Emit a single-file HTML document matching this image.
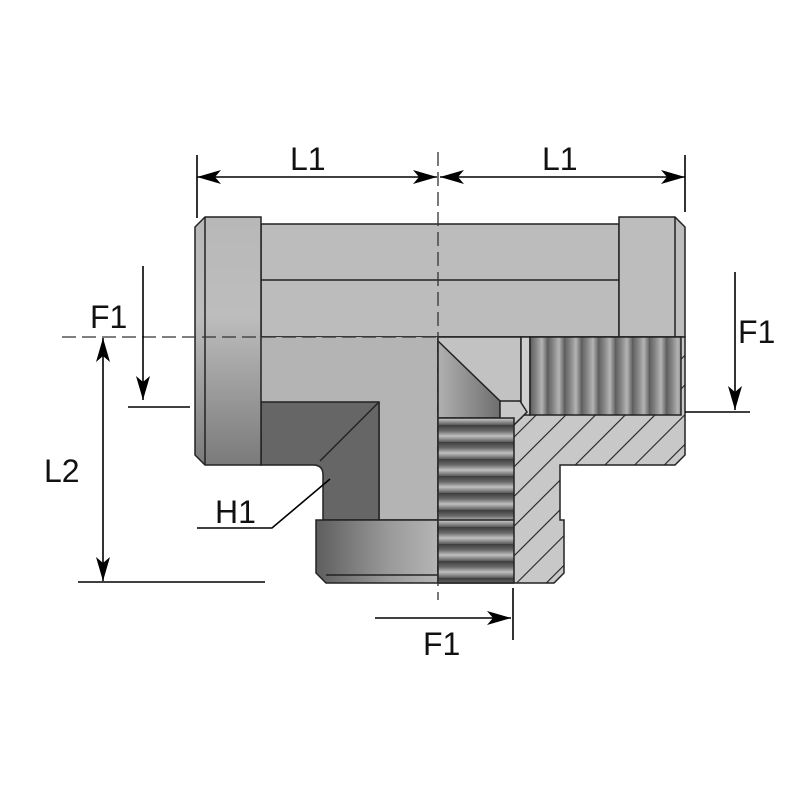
<!DOCTYPE html>
<html><head><meta charset="utf-8"><style>html,body{margin:0;padding:0;background:#fff}svg{display:block}</style></head>
<body>
<svg width="800" height="800" viewBox="0 0 800 800" xmlns="http://www.w3.org/2000/svg" font-family="'Liberation Sans', sans-serif">
<defs>
<linearGradient id="fl" x1="0" y1="0" x2="0" y2="1">
<stop offset="0" stop-color="#b8b8b8"/><stop offset="0.4" stop-color="#bdbdbd"/><stop offset="1" stop-color="#7a7a7a"/></linearGradient>
<linearGradient id="bf" x1="0" y1="0" x2="1" y2="0">
<stop offset="0" stop-color="#5e5e5e"/><stop offset="0.6" stop-color="#9a9a9a"/><stop offset="1" stop-color="#b5b5b5"/></linearGradient>
<linearGradient id="tri" x1="0" y1="0" x2="1" y2="0">
<stop offset="0" stop-color="#b0b0b0"/><stop offset="1" stop-color="#6e6e6e"/></linearGradient>
<linearGradient id="gv" x1="0" y1="0" x2="1" y2="0">
<stop offset="0" stop-color="#5c5c5c"/><stop offset="0.4" stop-color="#8a8a8a"/><stop offset="0.7" stop-color="#b4b4b4"/><stop offset="1" stop-color="#6a6a6a"/></linearGradient>
<linearGradient id="gh" x1="0" y1="0" x2="0" y2="1">
<stop offset="0" stop-color="#3c3c3c"/><stop offset="0.35" stop-color="#6a6a6a"/><stop offset="0.65" stop-color="#c0c0c0"/><stop offset="1" stop-color="#5a5a5a"/></linearGradient>
<pattern id="thV" x="530" y="0" width="17" height="10" patternUnits="userSpaceOnUse">
<rect width="17" height="10" fill="url(#gv)"/></pattern>
<pattern id="thH" x="0" y="425" width="10" height="17" patternUnits="userSpaceOnUse">
<rect width="10" height="17" fill="url(#gh)"/></pattern>
<pattern id="hatch" width="21" height="21" patternUnits="userSpaceOnUse" patternTransform="rotate(45)">
<rect width="21" height="21" fill="#c8c8c8"/><line x1="0" y1="0" x2="0" y2="21" stroke="#222" stroke-width="2.2"/></pattern>
<marker id="ah" viewBox="0 0 24 14" refX="24" refY="7" markerWidth="24" markerHeight="14" markerUnits="userSpaceOnUse" orient="auto">
<path d="M0,0 L24,7 L0,14 L6,7 Z" fill="#000"/></marker>
</defs>
<g stroke="#222" stroke-width="1.5">
<rect x="261" y="224" width="358" height="113" fill="#bcbcbc"/>
<line x1="261" y1="280" x2="619" y2="280"/>
<path d="M261,337 H438 V520 H379 V337 Z" fill="#b4b4b4"/>
<path d="M261,337 H438 V402 H261 Z" fill="#b4b4b4" stroke="none"/>
<path d="M261,402 H379 V520 H323 V475 Q323,465 313,465 H261 Z" fill="#666"/>
<line x1="379" y1="402" x2="320" y2="461"/>
<path d="M205,217 H261 V465 H205 L195,455 V227 Z" fill="url(#fl)"/>
<line x1="205" y1="217" x2="205" y2="465"/>
<path d="M619,217 H675 L685,227 V337 H619 Z" fill="#bdbdbd"/>
<line x1="675" y1="217" x2="675" y2="337"/>
<path d="M316,520 H438 V583 H326 L316,573 Z" fill="url(#bf)"/>
<line x1="326" y1="575" x2="438" y2="575"/>
<path d="M438,337 H685 V455 L675,465 H560 V520 H564 V573 L554,583 H438 Z" fill="url(#hatch)"/>
<rect x="438" y="337" width="83" height="81" fill="#c2c2c2"/>
<rect x="521" y="337" width="9" height="78" fill="#cfcfcf"/>
<rect x="530" y="337" width="151" height="78" fill="url(#thV)"/>
<path d="M438,341 L500,401 V418 H438 Z" fill="url(#tri)"/>
<path d="M500,401 H520 L527,412 L514,425 H500 Z" fill="#c8c8c8"/>
<rect x="438" y="418" width="76" height="165" fill="url(#thH)"/>
<line x1="438" y1="520" x2="514" y2="520"/>
</g>
<g stroke="#333" stroke-width="1.3" stroke-dasharray="14,6" fill="none">
<line x1="438" y1="152" x2="438" y2="600"/>
<line x1="62" y1="337" x2="438" y2="337"/>
</g>
<g stroke="#000" stroke-width="1.6" fill="none">
<line x1="197" y1="155" x2="197" y2="218"/>
<line x1="685" y1="155" x2="685" y2="212"/>
<line x1="260" y1="177" x2="197" y2="177" marker-end="url(#ah)"/>
<line x1="260" y1="177" x2="437" y2="177" marker-end="url(#ah)"/>
<line x1="560" y1="177" x2="440" y2="177" marker-end="url(#ah)"/>
<line x1="560" y1="177" x2="685" y2="177" marker-end="url(#ah)"/>
<line x1="143" y1="266" x2="143" y2="400" marker-end="url(#ah)"/>
<line x1="128" y1="407" x2="190" y2="407"/>
<line x1="103" y1="460" x2="103" y2="338" marker-end="url(#ah)"/>
<line x1="103" y1="460" x2="103" y2="581" marker-end="url(#ah)"/>
<line x1="78" y1="582" x2="265" y2="582"/>
<line x1="735" y1="272" x2="735" y2="410" marker-end="url(#ah)"/>
<line x1="685" y1="412" x2="750" y2="412"/>
<line x1="375" y1="618" x2="511" y2="618" marker-end="url(#ah)"/>
<line x1="513" y1="588" x2="513" y2="640"/>
<polyline points="197,528 272,528 330,479"/>
</g>
<g font-size="32" fill="#111">
<text x="290" y="170">L1</text>
<text x="542" y="170">L1</text>
<text x="90" y="328">F1</text>
<text x="44" y="482">L2</text>
<text x="738" y="343">F1</text>
<text x="423" y="655">F1</text>
<text x="215" y="523">H1</text>
</g>
</svg>
</body></html>
